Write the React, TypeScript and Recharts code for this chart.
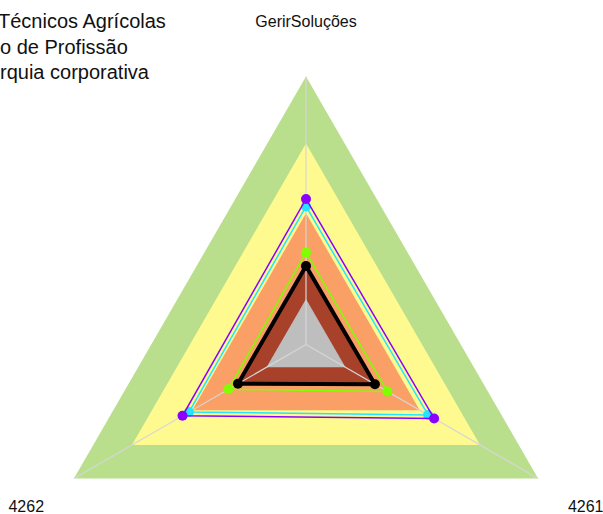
import React from 'react';
import { RadarChart, Radar, PolarAngleAxis, PolarRadiusAxis } from 'recharts';

const categories = ['GerirSoluções', '4261', '4262'];
const bandGreen = [100, 100, 100];
const bandYellow = [75, 75, 75];
const bandOrange = [49, 49, 49];
const bandBrown = [28.5, 28.5, 28.5];
const bandGray = [17, 17, 17];
const seriesPurple = [54.3, 55.2, 53.2];
const seriesCyan = [51.5, 52.6, 50.4];
const seriesLime = [34.3, 35.1, 33.4];
const seriesBlack = [29.3, 29.7, 29.3];
const titleLines = ['Técnicos Agrícolas', 'o de Profissão', 'rquia corporativa'];

const data = categories.map((c, i) => ({
  name: c,
  green: bandGreen[i],
  yellow: bandYellow[i],
  orange: bandOrange[i],
  brown: bandBrown[i],
  gray: bandGray[i],
  purple: seriesPurple[i],
  cyan: seriesCyan[i],
  lime: seriesLime[i],
  black: seriesBlack[i],
}));

const CX = 306;
const CY = 344.5;
const LABEL_R = 323;
const FONT = 'Arial, "Liberation Sans", sans-serif';

const Tick = (props: any) => {
  const { x, y, payload } = props;
  const dx = x - CX;
  const dy = y - CY;
  const d = Math.sqrt(dx * dx + dy * dy) || 1;
  const tx = CX + (dx / d) * LABEL_R;
  const ty = CY + (dy / d) * LABEL_R;
  return (
    <text x={tx} y={ty} textAnchor="middle" dominantBaseline="central" fontSize={16} fontFamily={FONT} fill="#111">
      {payload.value}
    </text>
  );
};

const bandShape = (color: string) => (props: any) => {
  const pts = props.points || [];
  return <polygon points={pts.map((p: any) => `${p.x},${p.y}`).join(' ')} fill={color} stroke="none" />;
};

const spokeShape = (props: any) => {
  const pts = props.points || [];
  return (
    <g>
      {pts.map((p: any, i: number) => (
        <line key={i} x1={p.cx ?? CX} y1={p.cy ?? CY} x2={p.x} y2={p.y} stroke="#d6d6d6" strokeWidth={1.2} />
      ))}
    </g>
  );
};

const seriesShape = (color: string, width: number, r: number) => (props: any) => {
  const pts = props.points || [];
  return (
    <g>
      <polygon points={pts.map((p: any) => `${p.x},${p.y}`).join(' ')} fill="none" stroke={color} strokeWidth={width} strokeLinejoin="miter" />
      {pts.map((p: any, i: number) => (
        <circle key={i} cx={p.x} cy={p.y} r={r} fill={color} />
      ))}
    </g>
  );
};

export default function App() {
  return (
    <div style={{ position: 'absolute', left: 0, top: 0, width: 603, height: 514, background: '#fff' }}>
      <RadarChart width={603} height={514} data={data} cx={CX} cy={CY} outerRadius={268} margin={{ top: 0, right: 0, bottom: 0, left: 0 }}>
        <PolarRadiusAxis domain={[0, 100]} tick={false} axisLine={false} />
        <PolarAngleAxis dataKey="name" tick={<Tick />} axisLine={false} tickLine={false} />
        <Radar dataKey="green" shape={bandShape('#b9df8c')} isAnimationActive={false} />
        <Radar dataKey="yellow" shape={bandShape('#fefa8f')} isAnimationActive={false} />
        <Radar dataKey="orange" shape={bandShape('#fa9f65')} isAnimationActive={false} />
        <Radar dataKey="brown" shape={bandShape('#a7412a')} isAnimationActive={false} />
        <Radar dataKey="gray" shape={bandShape('#bebebe')} isAnimationActive={false} />
        <Radar dataKey="green" shape={spokeShape} isAnimationActive={false} />
        <Radar dataKey="lime" shape={seriesShape('#7fff00', 1.5, 5)} isAnimationActive={false} />
        <Radar dataKey="cyan" shape={seriesShape('#22e6ff', 1.5, 5)} isAnimationActive={false} />
        <Radar dataKey="purple" shape={seriesShape('#8a00ff', 1.5, 5)} isAnimationActive={false} />
        <Radar dataKey="black" shape={seriesShape('#000000', 4, 5)} isAnimationActive={false} />
      </RadarChart>
      <svg width={603} height={514} style={{ position: 'absolute', left: 0, top: 0, pointerEvents: 'none' }}>
        {titleLines.map((t, i) => (
          <text key={i} x={i === 0 ? -2 : 0} y={28 + i * 25.5} fontSize={20} fontFamily={FONT} fill="#111">
            {t}
          </text>
        ))}
      </svg>
    </div>
  );
}
